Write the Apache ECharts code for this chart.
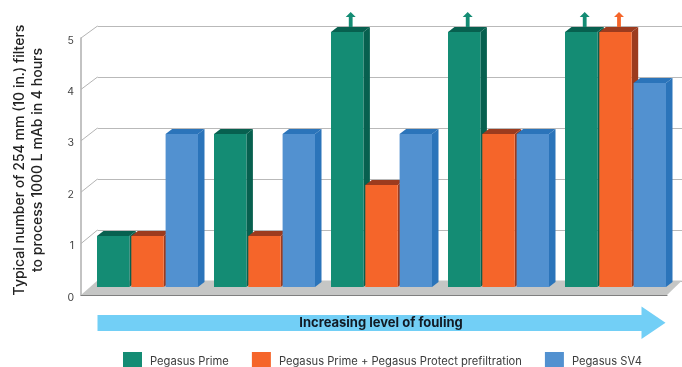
<!DOCTYPE html>
<html><head><meta charset="utf-8">
<style>html,body{margin:0;padding:0;background:#fff}#c{width:682px;height:367px}</style>
<script src="https://cdn.jsdelivr.net/npm/echarts@6/dist/echarts.min.js"></script>
</head><body><div id="c"></div>
<script>
const categories = ['Level 1','Level 2','Level 3','Level 4','Level 5'];
const seriesNames = ['Pegasus Prime','Pegasus Prime + Pegasus Protect prefiltration','Pegasus SV4'];
const prime   = [1,3,5,5,5];
const protect = [1,1,2,3,5];
const sv4     = [3,3,3,3,4];
const primeAbove   = [0,0,1,1,1];
const protectAbove = [0,0,0,0,1];
const sv4Above     = [0,0,0,0,0];
const yTicks = [0,1,2,3,4,5];
const axisTitle = 'Typical number of 254 mm (10 in.) filters\nto process 1000 L mAb in 4 hours';
const arrowText = 'Increasing level of fouling';

const front=['#148C74','#F5652A','#5291D0'];
const tops=['#07604F','#9C3B1E','#2B74BA'];
const sides=['#07604F','#9C3B1E','#2B74BA'];
const FONT='Inter, Roboto, sans-serif';
const DX=6.5, DY=5, BW=32.4, STEP=34.3;

function barSeries(i,vals,above){
  return {
    type:'custom', name:seriesNames[i], xAxisIndex:2, yAxisIndex:2, z:5,
    itemStyle:{color:front[i]},
    data:vals.map((v,k)=>[k,v,above[k]]),
    encode:{x:0,y:1},
    renderItem(params,api){
      const c=api.coord([api.value(0),api.value(1)]);
      const b=api.coord([api.value(0),0]);
      const x=c[0]+(i-1)*STEP-BW/2, y=c[1], h=b[1]-c[1];
      const kids=[
        {type:'polygon',shape:{points:[[x,y],[x+DX,y-DY],[x+BW+DX,y-DY],[x+BW,y]]},style:{fill:tops[i]}},
        {type:'polygon',shape:{points:[[x+BW,y],[x+BW+DX,y-DY],[x+BW+DX,y+h-DY],[x+BW,y+h]]},style:{fill:sides[i]}},
        {type:'rect',shape:{x,y,width:BW,height:h},style:{fill:front[i]}}
      ];
      if(api.value(2)){
        const ax=x+BW/2+3.5, tip=y-20, base=y-15, end=y-2;
        kids.unshift({type:'polygon',shape:{points:[[ax,tip],[ax+5,base],[ax+1.9,base],[ax+1.9,end],[ax-1.9,end],[ax-1.9,base],[ax-5,base]]},style:{fill:front[i]}});
      }
      return {type:'group',children:kids};
    }
  };
}

const chart=echarts.init(document.getElementById('c'),null,{renderer:'canvas'});
chart.setOption({
  animation:false,
  backgroundColor:'#fff',
  grid:[
    {left:81,top:38,width:586,height:257},
    {left:97.5,top:26,width:584.5,height:255},
    {left:89,top:32,width:585,height:255},
    {left:81,top:40.5,width:586,height:257}
  ],
  xAxis:[
    {gridIndex:0,type:'value',min:0,max:1,show:true,axisLabel:{show:false},axisTick:{show:false},splitLine:{show:false},axisLine:{show:true,lineStyle:{color:'#7f7f7f',width:1.2}}},
    {gridIndex:1,type:'value',min:0,max:1,show:false},
    {gridIndex:2,type:'category',data:categories,show:false},
    {gridIndex:3,type:'value',min:0,max:1,show:false}
  ],
  yAxis:[
    {gridIndex:0,type:'value',min:0,max:5,interval:1,
      axisLine:{show:true,lineStyle:{color:'#b4b4b4',width:1.6}},axisTick:{show:false},splitLine:{show:false},axisLabel:{show:false}},
    {gridIndex:1,type:'value',min:0,max:5,interval:1,axisLabel:{show:false},axisTick:{show:false},axisLine:{show:false},
      splitLine:{show:true,lineStyle:{color:'#b9b9b9',width:1.2}}},
    {gridIndex:2,type:'value',min:0,max:5,show:false},
    {gridIndex:3,type:'value',min:0,max:5,interval:1,axisLine:{show:false},axisTick:{show:false},splitLine:{show:false},
      axisLabel:{color:'#444',fontFamily:FONT,fontSize:10.5,fontWeight:400,margin:7,formatter:v=>yTicks.includes(v)?String(v):''}}
  ],
  legend:{left:118,top:347,itemWidth:19,itemHeight:19,itemGap:23,
    textStyle:{fontFamily:FONT,fontSize:11.2,color:'#3c3c3c',padding:[2,0,0,3]},
    data:seriesNames,icon:'rect'},
  graphic:[
    {type:'polygon',z:1,shape:{points:[[81,295],[97.5,280.5],[682,280.5],[667,295]]},style:{fill:'#C5C6C5'}},
    {type:'line',z:2,shape:{x1:81,y1:38,x2:97.5,y2:26},style:{stroke:'#b4b4b4',lineWidth:1}},
    {type:'line',z:2,shape:{x1:81,y1:89.4,x2:97.5,y2:77},style:{stroke:'#b4b4b4',lineWidth:1}},
    {type:'line',z:2,shape:{x1:81,y1:140.8,x2:97.5,y2:128},style:{stroke:'#b4b4b4',lineWidth:1}},
    {type:'line',z:2,shape:{x1:81,y1:192.2,x2:97.5,y2:179},style:{stroke:'#b4b4b4',lineWidth:1}},
    {type:'line',z:2,shape:{x1:81,y1:243.6,x2:97.5,y2:230},style:{stroke:'#b4b4b4',lineWidth:1}},
    {type:'polygon',z:2,shape:{points:[[97.5,315],[641.5,315],[641.5,306.5],[665.5,322.7],[641.5,339],[641.5,331],[97.5,331]]},style:{fill:'#72CFF6'}},
    {type:'text',z:3,x:381,y:323,style:{text:arrowText,fill:'#111a24',font:'700 13px '+FONT,align:'center',verticalAlign:'middle'}},
    {type:'text',z:3,x:28.5,y:160,rotation:Math.PI/2,style:{text:axisTitle,fill:'#222',font:'500 14px '+FONT,align:'center',verticalAlign:'middle',lineHeight:18}}
  ],
  series:[barSeries(0,prime,primeAbove),barSeries(1,protect,protectAbove),barSeries(2,sv4,sv4Above)]
});
</script></body></html>
